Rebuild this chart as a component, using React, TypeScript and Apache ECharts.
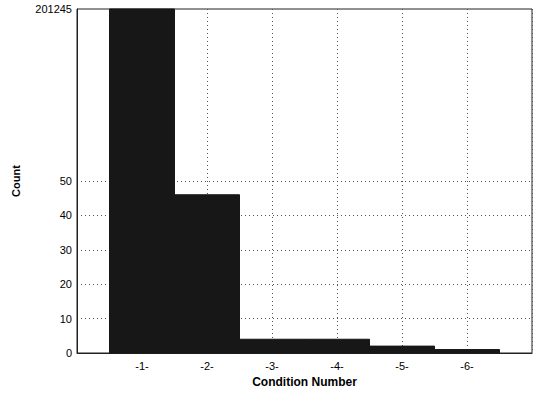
import React, { useEffect, useRef } from "react";
import * as echarts from "echarts";

const conditions = [1, 2, 3, 4, 5, 6];
const counts = [201245, 46, 4, 4, 2, 1];
const yTickValues = [0, 10, 20, 30, 40, 50];
const topLabel = "201245";

// broken axis: values above the break are drawn at the top of the axis
const BREAK = 60;
const TOP = 100;
const toDisplay = (v: number) => (v > BREAK ? TOP : v);

export default function App() {
  const ref = useRef<HTMLDivElement>(null);
  useEffect(() => {
    if (!ref.current) return;
    const chart = echarts.init(ref.current, null, { renderer: "svg" });
    const gridColors: string[] = [];
    for (let v = 0; v <= TOP; v += 10) {
      gridColors.push(v > 0 && yTickValues.includes(v) ? "#555" : "rgba(0,0,0,0)");
    }
    chart.setOption({
      animation: false,
      backgroundColor: "#fff",
      textStyle: { fontFamily: "Liberation Sans, Arial, sans-serif" },
      grid: {
        left: 77,
        top: 9,
        right: 2,
        bottom: 40,
        show: true,
        borderColor: "#222",
        borderWidth: 1,
        backgroundColor: "#fff",
      },
      xAxis: {
        type: "value",
        min: 0,
        max: 7,
        interval: 1,
        name: "Condition Number",
        nameLocation: "middle",
        nameGap: 21,
        nameTextStyle: { fontSize: 12, fontWeight: "bold", color: "#000" },
        axisLine: { show: true, lineStyle: { color: "#222" } },
        axisTick: { show: false },
        axisLabel: {
          margin: 7,
          fontSize: 11,
          color: "#000",
          formatter: (v: number) => (conditions.includes(v) ? `-${v}-` : ""),
        },
        splitLine: { show: true, lineStyle: { type: [1, 3], color: "#555" } },
      },
      yAxis: {
        type: "value",
        min: 0,
        max: TOP,
        interval: 10,
        name: "Count",
        nameLocation: "middle",
        nameGap: 56,
        nameTextStyle: { fontSize: 11, fontWeight: "bold", color: "#000" },
        axisLine: { show: true, lineStyle: { color: "#222" } },
        axisTick: { show: false },
        axisLabel: {
          margin: 5,
          fontSize: 11,
          color: "#000",
          formatter: (v: number) =>
            yTickValues.includes(v) ? String(v) : v === TOP ? topLabel : "",
        },
        splitLine: { show: true, lineStyle: { type: [1, 3], color: gridColors } },
      },
      series: [
        {
          type: "custom",
          z: 3,
          data: conditions.map((c, i) => [c, toDisplay(counts[i]), counts[i]]),
          encode: { x: 0, y: 1 },
          renderItem: (params: any, api: any) => {
            const x = api.value(0);
            const y = api.value(1);
            const p1 = api.coord([x - 0.5, y]);
            const p2 = api.coord([x + 0.5, 0]);
            return {
              type: "rect",
              shape: { x: p1[0], y: p1[1], width: p2[0] - p1[0], height: p2[1] - p1[1] },
              style: { fill: "#171717", stroke: "#171717", lineWidth: 1 },
            };
          },
        },
      ],
    });
    return () => chart.dispose();
  }, []);
  return <div ref={ref} style={{ width: 535, height: 393, position: "absolute", left: 0, top: 0 }} />;
}
